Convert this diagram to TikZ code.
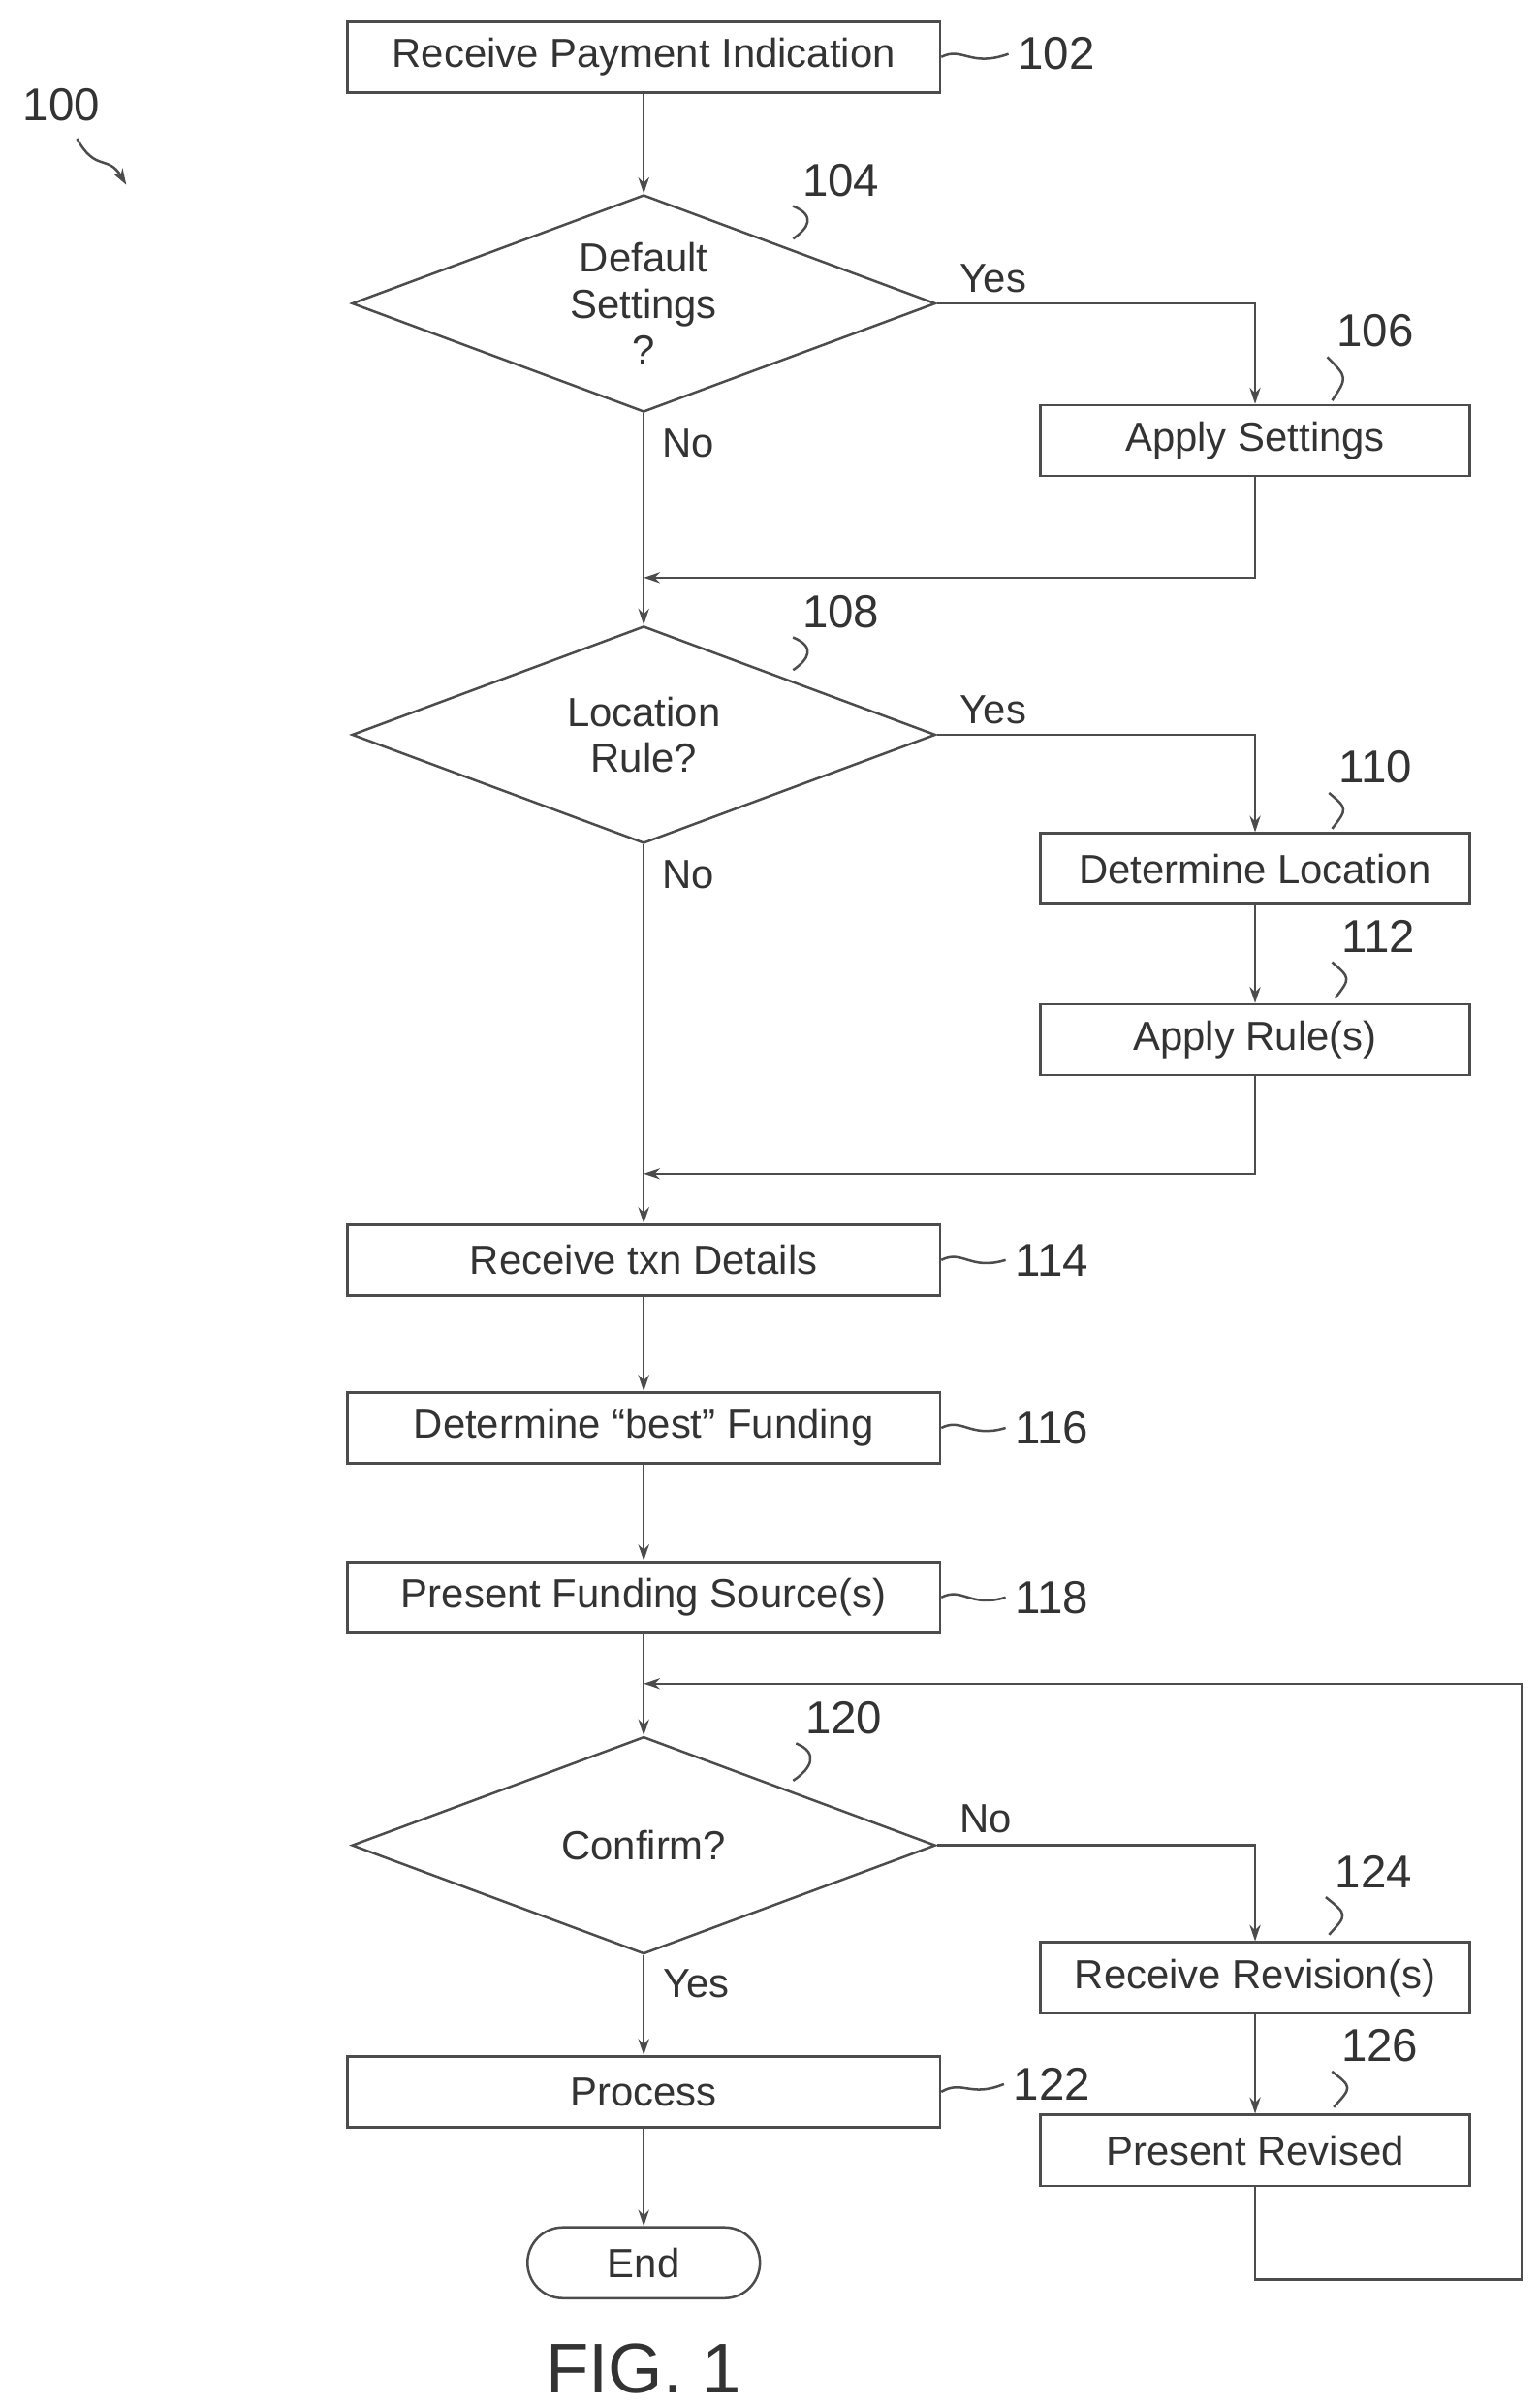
\documentclass[tikz,border=0pt]{standalone}
\usepackage{fontspec}
\setmainfont{Liberation Sans}
\usetikzlibrary{shapes.geometric,arrows.meta}
\begin{document}
\begin{tikzpicture}[x=0.02cm,y=-0.02cm,
  every node/.style={font=\fontsize{15}{17}\selectfont,text=black!80},
  line/.style={draw=black!70,line width=0.9pt},
  arr/.style={line,-{Stealth[length=6pt,width=4pt]}},
  wbox/.style={line,rectangle,minimum width=7.7cm,minimum height=0.92cm,inner sep=0},
  sbox/.style={line,rectangle,minimum width=5.58cm,minimum height=0.92cm,inner sep=0},
  dia/.style={line,diamond,minimum width=7.58cm,minimum height=2.82cm,aspect=2.69,inner sep=0,align=center},
  num/.style={font=\fontsize{17}{19}\selectfont},
  lab/.style={font=\fontsize{15}{17}\selectfont}]
\useasboundingbox (0,0) rectangle (1000,1562);
\node[wbox] (b102) at (418,37) {Receive Payment Indication};
\node[num] (n102) at (686,35) {102};
\draw[line] (b102.east) .. controls (625,30) and (630,44) .. (n102.west);
\node[num] (n100) at (40,68) {100};
\coordinate (p100) at (82,120);
\draw[arr] (50,90) .. controls (62,112) and (70,100) .. (p100);
\node[dia] (d104) at (418,197) {Default\\Settings\\?};
\node[num] (n104) at (546,117) {104};
\draw[line] (n104.south west) .. controls (530,140) and (525,148) .. (515,155);
\draw[arr] (b102) -- (d104);
\node[sbox] (b106) at (815,286) {Apply Settings};
\node[num] (n106) at (893,215) {106};
\draw[line] (n106.south west) .. controls (875,245) .. (865,260);
\node[lab] at (645,181) {Yes};
\draw[arr] (d104.east) -| (b106.north);
\node[dia] (d108) at (418,477) {Location\\Rule?};
\node[num] (n108) at (546,397) {108};
\draw[line] (n108.south west) .. controls (530,420) and (525,428) .. (515,435);
\node[lab] at (447,288) {No};
\draw[arr] (d104.south) -- (d108.north);
\coordinate (m1) at (418,375);
\draw[arr] (b106.south) |- (m1);
\node[lab] at (645,461) {Yes};
\node[sbox] (b110) at (815,564) {Determine Location};
\node[num] (n110) at (893,498) {110};
\draw[line] (n110.south west) .. controls (875,525) .. (865,538);
\draw[arr] (d108.east) -| (b110.north);
\node[sbox] (b112) at (815,675) {Apply Rule(s)};
\node[num] (n112) at (895,608) {112};
\draw[line] (n112.south west) .. controls (877,635) .. (867,648);
\draw[arr] (b110) -- (b112);
\node[wbox] (b114) at (418,818) {Receive txn Details};
\node[num] (n114) at (683,818) {114};
\draw[line] (b114.east) .. controls (625,811) and (630,825) .. (n114.west);
\node[lab] at (447,568) {No};
\draw[arr] (d108.south) -- (b114.north);
\coordinate (m2) at (418,762);
\draw[arr] (b112.south) |- (m2);
\node[wbox] (b116) at (418,927) {Determine ``best'' Funding};
\node[num] (n116) at (683,927) {116};
\draw[line] (b116.east) .. controls (625,920) and (630,934) .. (n116.west);
\draw[arr] (b114) -- (b116);
\node[wbox] (b118) at (418,1037) {Present Funding Source(s)};
\node[num] (n118) at (683,1037) {118};
\draw[line] (b118.east) .. controls (625,1030) and (630,1044) .. (n118.west);
\draw[arr] (b116) -- (b118);
\node[dia] (d120) at (418,1198) {Confirm?};
\node[num] (n120) at (548,1115) {120};
\draw[line] (n120.south west) .. controls (532,1138) and (527,1148) .. (515,1156);
\draw[arr] (b118) -- (d120);
\node[lab] at (640,1181) {No};
\node[sbox] (b124) at (815,1284) {Receive Revision(s)};
\node[num] (n124) at (892,1215) {124};
\draw[line] (n124.south west) .. controls (875,1243) .. (863,1256);
\draw[arr] (d120.east) -| (b124.north);
\node[sbox] (b126) at (815,1396) {Present Revised};
\node[num] (n126) at (896,1328) {126};
\draw[line] (n126.south west) .. controls (878,1355) .. (866,1368);
\draw[arr] (b124) -- (b126);
\coordinate (m3) at (418,1093);
\draw[arr] (b126.south) -- (815,1480) -- (988,1480) -- (988,1093) -- (m3);
\node[lab] at (452,1288) {Yes};
\node[wbox] (b122) at (418,1358) {Process};
\node[num] (n122) at (683,1353) {122};
\draw[line] (b122.east) .. controls (625,1350) and (630,1362) .. (n122.west);
\draw[arr] (d120.south) -- (b122.north);
\node[line,rectangle,rounded corners=0.46cm,minimum width=3.02cm,minimum height=0.92cm,inner sep=0] (end) at (418,1469) {End};
\draw[arr] (b122) -- (end);
\node[font=\fontsize{26}{28}\selectfont] (fig) at (418,1538) {FIG. 1};
\end{tikzpicture}
\end{document}
